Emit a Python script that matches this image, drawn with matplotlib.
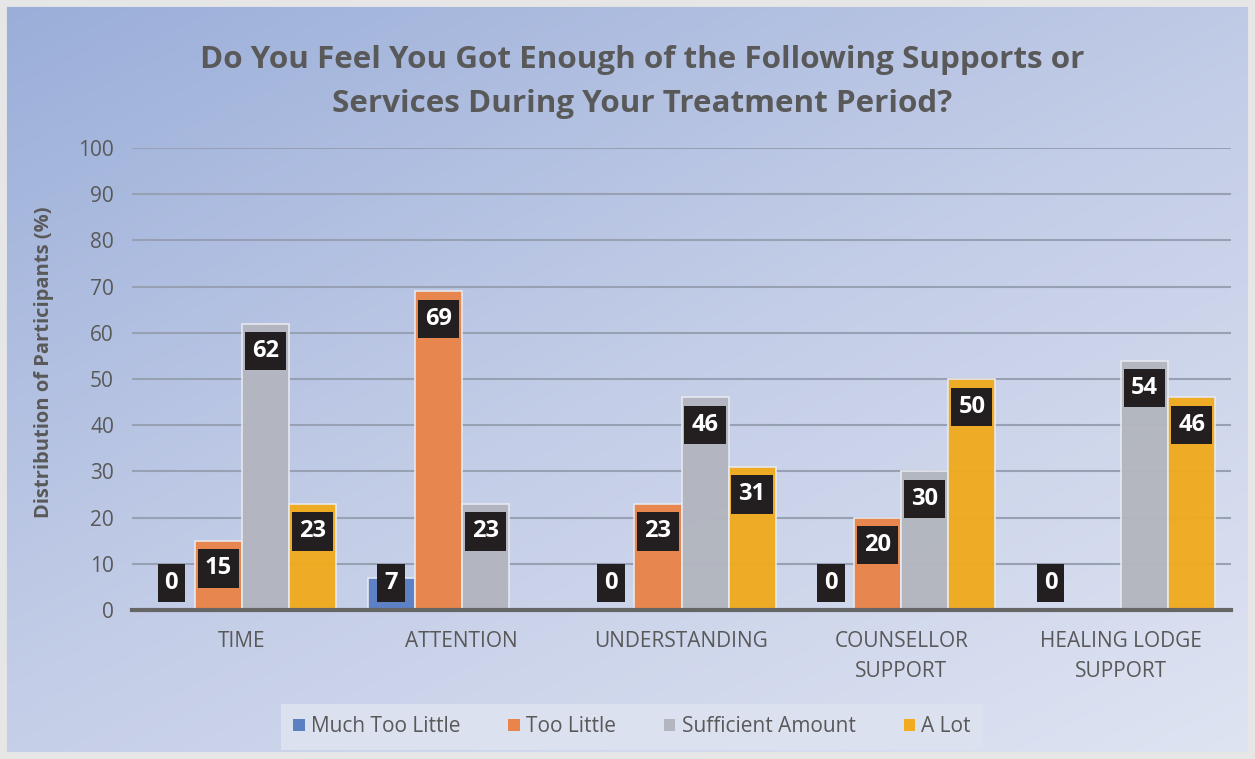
import numpy as np
import matplotlib
matplotlib.use("Agg")
from matplotlib import pyplot as plt
from matplotlib.colors import LinearSegmentedColormap

categories = ["TIME", "ATTENTION", "UNDERSTANDING", "COUNSELLOR\nSUPPORT", "HEALING LODGE\nSUPPORT"]
series_names = ["Much Too Little", "Too Little", "Sufficient Amount", "A Lot"]
much_too_little = [0, 7, 0, 0, 0]
too_little = [15, 69, 23, 20, None]
sufficient = [62, 23, 46, 30, 54]
a_lot = [23, None, 31, 50, 46]
colors = ["#5A7FC3", "#E9844A", "#B3B6BF", "#F0AB1F"]
yticks = [0, 10, 20, 30, 40, 50, 60, 70, 80, 90, 100]

plt.rcParams['font.family'] = ['Open Sans', 'DejaVu Sans']
txt = "#595959"

fig = plt.figure(figsize=(12.55, 7.59), dpi=100)

## gradient background for the whole figure
bg = fig.add_axes([0, 0, 1, 1], zorder=-10)
xx, yy = np.meshgrid(np.linspace(0, 1, 300), np.linspace(0, 1, 200))
grad = (xx * 0.45 + yy * 0.55)
cmap = LinearSegmentedColormap.from_list("bg", ["#9AAED9", "#C3CDE7", "#DFE4F2"])
bg.imshow(grad, cmap=cmap, aspect="auto", extent=[0, 1, 0, 1], origin="upper")
bg.add_patch(plt.Rectangle((0, 0), 1, 1, transform=bg.transAxes, fill=False,
                           edgecolor="#E6E6E6", linewidth=10))
bg.set_axis_off()

ax = fig.add_axes([132 / 1255, 1 - 610 / 759, 1099 / 1255, 462 / 759])
ax.patch.set_alpha(0)

data = [much_too_little, too_little, sufficient, a_lot]
x = np.arange(len(categories))
w = 0.214
offsets = [-1.5 * w, -0.5 * w, 0.5 * w, 1.5 * w]
for s, vals in enumerate(data):
    for i, v in enumerate(vals):
        if v is None:
            continue
        xpos = x[i] + offsets[s]
        ax.bar(xpos, v, width=w, color=colors[s], edgecolor="#E8EAF0",
               linewidth=1.2, zorder=3, alpha=0.97)
        ycen = max(v - 6.0, 5.9)
        ax.text(xpos, ycen, str(v), ha="center", va="center", color="white",
                fontsize=17, fontweight="bold", zorder=5,
                bbox=dict(boxstyle="square,pad=0.3", facecolor="#231F20",
                          edgecolor="none"))

for s in range(4):
    ax.bar([0], [0], width=0, color=colors[s], label=series_names[s])

ax.set_xlim(-0.5, len(categories) - 0.5)
ax.set_ylim(0, 100)
ax.set_yticks(yticks)
ax.set_xticks(x)
ax.set_xticklabels(categories, fontsize=15, color=txt, linespacing=1.55)
ax.tick_params(axis="y", labelsize=15, colors=txt, length=0, pad=13)
ax.tick_params(axis="x", length=0, pad=15)
ax.grid(axis="y", color="#98A1B4", linewidth=1.5, zorder=0)
for sp in ["top", "right", "left"]:
    ax.spines[sp].set_visible(False)
ax.spines["bottom"].set_color("#666666")
ax.spines["bottom"].set_linewidth(3)
ax.spines["bottom"].set_zorder(4)

ax.set_ylabel("Distribution of Participants (%)", fontsize=14.5, fontweight="bold",
              color=txt)
ax.yaxis.set_label_coords(-0.071, 0.537)

fig.text(642 / 1255, 1 - 82 / 759, "Do You Feel You Got Enough of the Following Supports or\nServices During Your Treatment Period?",
         ha="center", va="center", fontsize=22.6, fontweight="bold", color=txt,
         linespacing=1.6)

leg = fig.legend(loc="center", bbox_to_anchor=(632 / 1255, 1 - 727 / 759), ncol=4,
                 frameon=True, fontsize=15, handlelength=0.55, handleheight=0.55,
                 handletextpad=0.3, columnspacing=2.3, borderpad=0.6, fancybox=False)
leg.get_frame().set_facecolor("#DCE1EF")
leg.get_frame().set_edgecolor("none")
leg.get_frame().set_alpha(1)
for t in leg.get_texts():
    t.set_color(txt)

fig.savefig("out.png", dpi=100)
